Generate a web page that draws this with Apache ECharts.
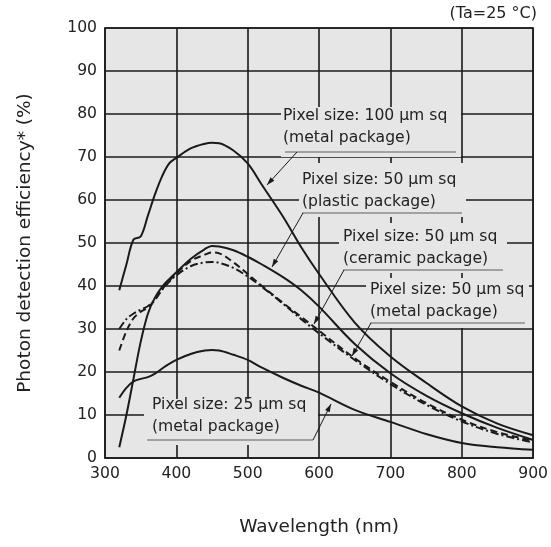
<!DOCTYPE html>
<html><head><meta charset="utf-8">
<script src="https://cdn.jsdelivr.net/npm/echarts@6/dist/echarts.min.js"></script>
<style>html,body{margin:0;padding:0;background:#fff}#c{width:551px;height:547px}</style>
</head><body><div id="c"></div>
<script>
// ---- data (wavelength in nm, photon detection efficiency in %) ----
const wavelengths = [320,330,340,350,360,370,380,390,400,420,440,450,460,480,500,520,550,575,600,650,700,750,800,850,900];
const pde100Metal  = [39,45,50.8,51.5,56.3,61.3,65.5,68.5,69.8,72,73.1,73.3,73.2,71.5,68.5,63.5,56,49,42.8,31.5,23.6,17.5,12,8,5.3];
const pde50Plastic = [2.5,10,18.5,27,33.5,37.3,39.8,41.6,43.2,46.3,48.6,49.3,49.2,48.3,46.8,45,42,39,35.2,26.5,19.7,14.5,10.4,7,4.2];
const pde50Ceramic = [25,29.5,32.5,34,35,36.8,39.2,41.2,42.9,45.8,47.3,47.8,47.6,45.5,42.8,40,36,32.8,29.6,23.2,17.7,12.8,8.9,6,4];
const pde50Metal   = [30,32.3,33.6,34.5,35.3,36.8,39.1,41,42.5,44.6,45.5,45.6,45.4,44.2,42.2,39.8,35.8,32.3,29,22.8,17.2,12.4,8.5,5.6,3.6];
const pde25Metal   = [14,16.3,17.8,18.4,18.8,19.6,20.8,21.9,22.8,24.2,25,25.1,25,24,22.8,21,18.6,16.8,15.2,11.2,8.4,5.6,3.5,2.5,1.9];

const xTitle = 'Wavelength (nm)';
const yTitle = 'Photon detection efficiency* (%)';
const noteText = '(Ta=25 °C)';
const labelLines = [
  ['Pixel size: 100 µm sq', '(metal package)'],
  ['Pixel size: 50 µm sq', '(plastic package)'],
  ['Pixel size: 50 µm sq', '(ceramic package)'],
  ['Pixel size: 50 µm sq', '(metal package)'],
  ['Pixel size: 25 µm sq', '(metal package)']
];

// ---- annotation layout (pixels) ----
const annotLayout = [
  {tx:283, ty:116, ul:[285,456,152], box:[281,107,461,157], lead:[297,152,267,185]},
  {tx:302, ty:180, ul:[302,462,213], box:[299,163,466,217], lead:[303,213,272,267]},
  {tx:343, ty:237, ul:[343,503,270], box:[339,223,507,273], lead:[344,270,314,324]},
  {tx:370, ty:290, ul:[370,525,323], box:[366,278,529,328], lead:[371,323,352,356]},
  {tx:152, ty:405, ul:[147,313,440], box:[144,399,318,445], lead:[313,440,331,404]}
];

const FONT = '"DejaVu Sans", Verdana, sans-serif';
const INK = '#1a1a1a';
const PLOTBG = '#e6e6e6';

function pairs(vals){ return wavelengths.map((w,i)=>[w, vals[i]]); }

const graphics = [];
annotLayout.forEach((a, i) => {
  graphics.push({type:'rect', z:1, silent:true,
    shape:{x:a.box[0], y:a.box[1], width:a.box[2]-a.box[0], height:a.box[3]-a.box[1]},
    style:{fill:PLOTBG}});
  graphics.push({type:'text', z:100, silent:true,
    style:{text: labelLines[i].join('\n'), x:a.tx, y:a.ty-11, fill:'#222',
      font:'15.6px ' + FONT, lineHeight:22, textAlign:'left', textVerticalAlign:'top', align:'left', verticalAlign:'top'}});
  graphics.push({type:'line', z:100, silent:true,
    shape:{x1:a.ul[0], y1:a.ul[2], x2:a.ul[1], y2:a.ul[2]},
    style:{stroke:'#8a8a8a', lineWidth:1.6}});
  const [x1,y1,x2,y2] = a.lead;
  graphics.push({type:'line', z:100, silent:true,
    shape:{x1, y1, x2, y2}, style:{stroke:INK, lineWidth:1}});
  const dx = x2-x1, dy = y2-y1, L = Math.hypot(dx,dy), ux = dx/L, uy = dy/L;
  const len = 8, hw = 2.6;
  const bx = x2 - ux*len, by = y2 - uy*len;
  graphics.push({type:'polygon', z:100, silent:true,
    shape:{points:[[x2,y2],[bx - uy*hw, by + ux*hw],[bx + uy*hw, by - ux*hw]]},
    style:{fill:INK}});
});
graphics.push({type:'text', z:100, silent:true,
  style:{text: noteText, x:537, y:14, fill:'#222', font:'16px ' + FONT,
    textAlign:'right', textVerticalAlign:'middle', align:'right', verticalAlign:'middle'}});

const axisCommon = {
  type:'value',
  axisLine:{show:true, lineStyle:{color:'#222', width:1.5}},
  axisTick:{show:false},
  splitLine:{show:true, lineStyle:{color:INK, width:1.6}},
  nameLocation:'middle',
  nameTextStyle:{fontSize:18.5, color:'#222', fontFamily:FONT}
};

function lineSeries(name, vals, type){
  return {name, type:'line', data:pairs(vals), showSymbol:false, symbol:'none',
    smooth:0.35, z:3, silent:true,
    lineStyle:{color:INK, width:2, type:type}};
}

const chart = echarts.init(document.getElementById('c'), null, {renderer:'canvas'});
chart.setOption({
  animation:false,
  backgroundColor:'#ffffff',
  grid:{left:105, right:14, top:28, bottom:89, show:true, backgroundColor:PLOTBG, borderColor:'#222', borderWidth:1.5},
  xAxis:Object.assign({}, axisCommon, {min:300, max:900, interval:100, name:xTitle, nameGap:60,
    axisLabel:{color:'#222', fontSize:15.6, fontFamily:FONT, margin:8}}),
  yAxis:Object.assign({}, axisCommon, {min:0, max:100, interval:10, name:yTitle, nameGap:70,
    axisLabel:{color:'#222', fontSize:15.6, fontFamily:FONT, margin:8}}),
  series:[
    lineSeries('100 µm metal', pde100Metal, 'solid'),
    lineSeries('50 µm plastic', pde50Plastic, 'solid'),
    lineSeries('50 µm ceramic', pde50Ceramic, [7,4]),
    lineSeries('50 µm metal', pde50Metal, [8,3,2,3]),
    lineSeries('25 µm metal', pde25Metal, 'solid')
  ],
  graphic:graphics
});
</script></body></html>
